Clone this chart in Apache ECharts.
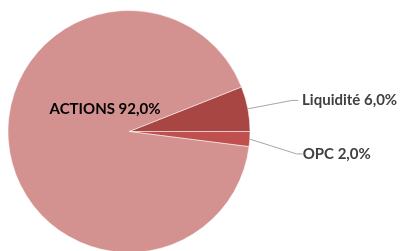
<!DOCTYPE html>
<html>
<head>
<meta charset="utf-8">
<script src="https://cdn.jsdelivr.net/npm/echarts@6/dist/echarts.min.js"></script>
<style>
  html, body { margin: 0; padding: 0; background: #fff; }
  #chart { width: 405px; height: 251px; }
</style>
</head>
<body>
<div id="chart"></div>
<script>
var categories = ['Liquidité', 'OPC', 'ACTIONS'];
var values = [6.0, 2.0, 92.0];
var colors = ['#A84644', '#C0504D', '#D39190'];

(function() {
    var chartDom = document.getElementById('chart');
    var myChart = echarts.init(chartDom);

    var data = categories.map(function(name, i) {
        var item = {
            name: name,
            value: values[i],
            itemStyle: { color: colors[i] }
        };
        if (name === 'ACTIONS') {
            item.label = { position: 'inside', color: '#000' };
        }
        return item;
    });

    var option = {
        animation: false,
        series: [{
            type: 'pie',
            center: [129, 131.5],
            radius: 121,
            startAngle: 21.6,
            clockwise: true,
            avoidLabelOverlap: false,
            itemStyle: {
                borderColor: '#fff',
                borderWidth: 0.5
            },
            label: {
                show: true,
                position: 'outside',
                fontFamily: 'Lato',
                fontWeight: 'bold',
                fontSize: 15,
                color: '#404040',
                distanceToLabelLine: 4,
                formatter: function(p) {
                    return p.name + ' ' + p.value.toFixed(1).replace('.', ',') + '%';
                }
            },
            labelLine: {
                show: true,
                length: 45,
                length2: 6,
                lineStyle: { color: '#A6A6A6', width: 1 }
            },
            labelLayout: function(p) {
                if (p.dataIndex === 2) return { dx: 39, dy: -30 };
                if (p.dataIndex === 1) {
                    return {
                        x: p.labelRect.x - 2,
                        y: p.labelRect.y + 12,
                        align: 'left',
                        verticalAlign: 'top'
                    };
                }
                return {};
            },
            data: data
        }]
    };

    myChart.setOption(option);
})();
</script>
</body>
</html>
